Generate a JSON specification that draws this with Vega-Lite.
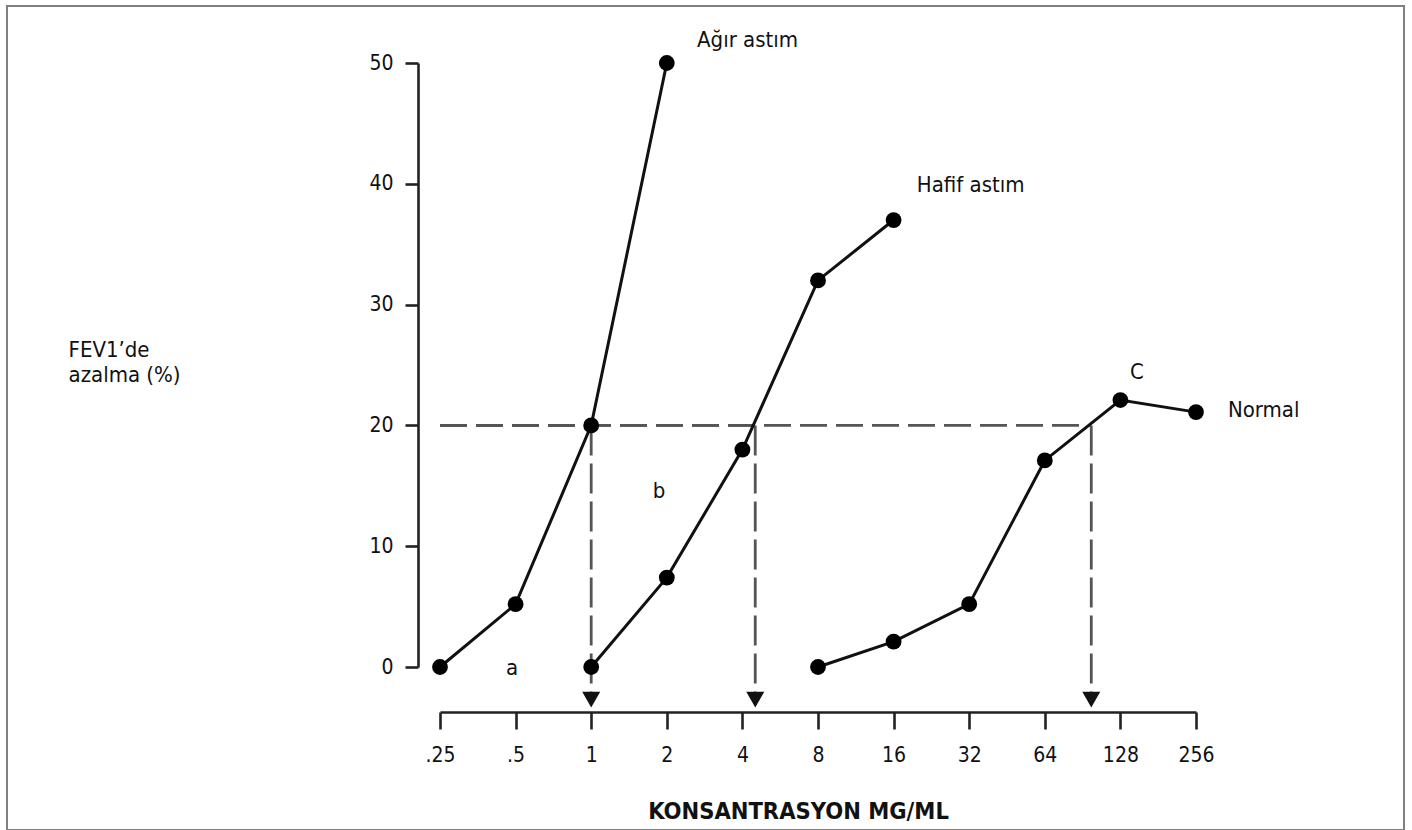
{
  "$schema": "https://vega.github.io/schema/vega-lite/v6.json",
  "autosize": {"type": "none"},
  "padding": {"left": 7, "top": 6, "right": 8, "bottom": 0},
  "width": 1397,
  "height": 824,
  "background": "white",
  "config": {
    "view": {"stroke": "#808080", "strokeWidth": 2},
    "font": "DejaVu Sans Condensed, Liberation Sans Narrow, Roboto",
    "axis": {"grid": false, "labelColor": "#111", "titleColor": "#111", "domainColor": "#222", "tickColor": "#222", "domainWidth": 2.6, "tickWidth": 2.6, "labelFlush": false, "labelOverlap": false}
  },
  "datasets": {
    "curves": [
      {"series": "Ağır astım", "conc": 0.25, "fall": 0},
      {"series": "Ağır astım", "conc": 0.5, "fall": 5.2},
      {"series": "Ağır astım", "conc": 1, "fall": 20},
      {"series": "Ağır astım", "conc": 2, "fall": 50},
      {"series": "Hafif astım", "conc": 1, "fall": 0},
      {"series": "Hafif astım", "conc": 2, "fall": 7.4},
      {"series": "Hafif astım", "conc": 4, "fall": 18},
      {"series": "Hafif astım", "conc": 8, "fall": 32},
      {"series": "Hafif astım", "conc": 16, "fall": 37},
      {"series": "Normal", "conc": 8, "fall": 0},
      {"series": "Normal", "conc": 16, "fall": 2.1},
      {"series": "Normal", "conc": 32, "fall": 5.2},
      {"series": "Normal", "conc": 64, "fall": 17.1},
      {"series": "Normal", "conc": 128, "fall": 22.1},
      {"series": "Normal", "conc": 256, "fall": 21.1}
    ],
    "pc20": [
      {"group": "a", "conc": 1, "start": 0.25, "level": 20, "floor": -2.7},
      {"group": "b", "conc": 4.5, "start": 0.25, "level": 20, "floor": -2.7},
      {"group": "c", "conc": 98, "start": 0.25, "level": 20, "floor": -2.7}
    ],
    "notes": [
      {"text": "Ağır astım", "conc": 2.64, "fall": 51.9},
      {"text": "Hafif astım", "conc": 19.8, "fall": 39.9},
      {"text": "Normal", "conc": 343, "fall": 21.3},
      {"text": "C", "conc": 139.8, "fall": 24.4},
      {"text": "b", "conc": 1.76, "fall": 14.6},
      {"text": "a", "conc": 0.458, "fall": -0.1}
    ]
  },
  "layer": [
    {
      "data": {"name": "pc20"},
      "mark": {"type": "rule", "color": "#555", "strokeWidth": 2.8, "strokeDash": [27, 9]},
      "encoding": {
        "x": {
          "field": "start",
          "type": "quantitative",
          "scale": {"type": "log", "base": 2, "domain": [0.25, 256], "range": [433, 1189], "nice": false},
          "axis": {
            "orient": "bottom",
            "offset": -118,
            "values": [0.25, 0.5, 1, 2, 4, 8, 16, 32, 64, 128, 256],
            "format": "~g",
            "labelExpr": "replace(datum.label, '0.', '.')",
            "tickSize": 17,
            "labelFontSize": 21,
            "labelPadding": 15,
            "title": "KONSANTRASYON MG/ML",
            "titleFontSize": 23.5,
            "titleFontWeight": "bold",
            "titleBaseline": "alphabetic",
            "titleAlign": "center",
            "titleX": 791,
            "titleY": 106
          }
        },
        "x2": {"field": "conc"},
        "y": {
          "field": "level",
          "type": "quantitative",
          "scale": {"domain": [0, 50], "range": [661, 57], "nice": false, "zero": false},
          "axis": {
            "orient": "left",
            "offset": -411,
            "values": [0, 10, 20, 30, 40, 50],
            "tickSize": 13,
            "labelFontSize": 21,
            "labelPadding": 12,
            "title": ["FEV1’de", "azalma (%)"],
            "titleAngle": 0,
            "titleAlign": "left",
            "titleBaseline": "alphabetic",
            "titleX": -350,
            "titleY": 350,
            "titleFontSize": 22,
            "titleFontWeight": "normal",
            "titleLineHeight": 25
          }
        }
      }
    },
    {
      "data": {"name": "pc20"},
      "mark": {"type": "rule", "color": "#555", "strokeWidth": 2.8, "strokeDash": [30, 8]},
      "encoding": {
        "x": {"field": "conc", "type": "quantitative"},
        "y": {"field": "level", "type": "quantitative"},
        "y2": {"field": "floor"}
      }
    },
    {
      "data": {"name": "pc20"},
      "mark": {"type": "point", "shape": "triangle-down", "filled": true, "color": "#111", "opacity": 1, "size": 324},
      "encoding": {
        "x": {"field": "conc", "type": "quantitative"},
        "y": {"field": "floor", "type": "quantitative"}
      }
    },
    {
      "data": {"name": "curves"},
      "mark": {"type": "line", "color": "#111", "strokeWidth": 3},
      "encoding": {
        "x": {"field": "conc", "type": "quantitative"},
        "y": {"field": "fall", "type": "quantitative"},
        "detail": {"field": "series"}
      }
    },
    {
      "data": {"name": "curves"},
      "mark": {"type": "point", "shape": "circle", "filled": true, "color": "#000", "opacity": 1, "size": 250},
      "encoding": {
        "x": {"field": "conc", "type": "quantitative"},
        "y": {"field": "fall", "type": "quantitative"}
      }
    },
    {
      "data": {"name": "notes"},
      "mark": {"type": "text", "align": "left", "baseline": "middle", "fontSize": 22, "color": "#111"},
      "encoding": {
        "x": {"field": "conc", "type": "quantitative"},
        "y": {"field": "fall", "type": "quantitative"},
        "text": {"field": "text"}
      }
    }
  ]
}
